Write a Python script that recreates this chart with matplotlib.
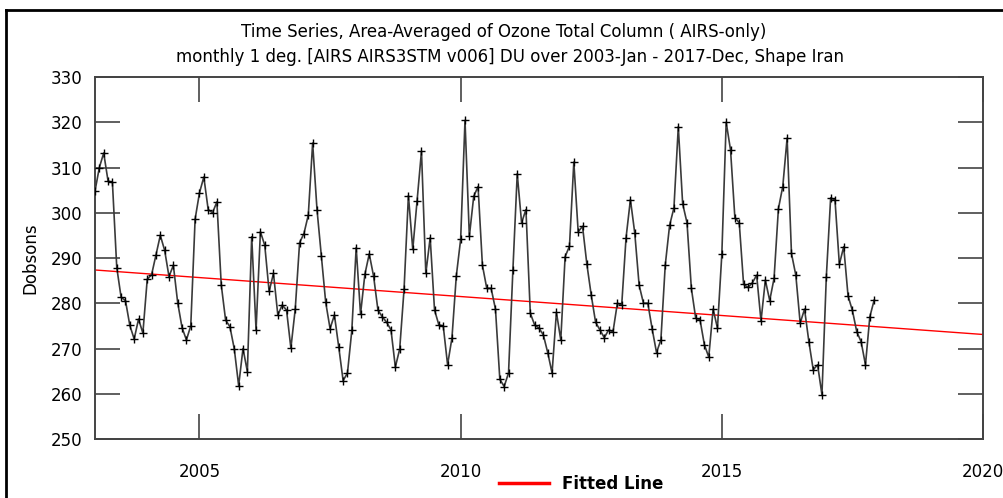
import numpy as np
import matplotlib
matplotlib.use("Agg")
import matplotlib.pyplot as plt
from matplotlib.lines import Line2D

plt.rcParams['font.family'] = ['DejaVu Sans']

# monthly ozone, 2003-Jan .. 2017-Dec (DU)
ozone_2003 = [304.8, 310.0, 313.2, 307.0, 306.7, 287.9, 281.3, 280.6, 275.1, 272.1, 276.5, 273.4]
ozone_2004 = [285.3, 286.3, 290.6, 295.0, 291.7, 285.9, 288.4, 280.1, 274.6, 271.9, 275.0, 298.6]
ozone_2005 = [304.4, 307.9, 300.7, 300.0, 302.4, 284.1, 276.3, 274.8, 269.9, 261.8, 270.0, 264.9]
ozone_2006 = [294.7, 274.1, 295.8, 292.8, 282.6, 286.6, 277.4, 279.6, 278.5, 270.1, 278.7, 293.4]
ozone_2007 = [295.4, 299.5, 315.4, 300.7, 290.5, 280.2, 274.4, 277.4, 270.3, 262.9, 264.6, 274.0]
ozone_2008 = [292.3, 277.6, 286.4, 290.9, 286.0, 278.5, 277.0, 275.8, 274.1, 265.9, 269.9, 283.1]
ozone_2009 = [303.8, 291.9, 302.7, 313.6, 286.6, 294.5, 278.5, 275.2, 275.0, 266.4, 272.3, 286.0]
ozone_2010 = [294.1, 320.4, 294.8, 303.6, 305.8, 288.4, 283.3, 283.3, 278.7, 263.2, 261.6, 264.6]
ozone_2011 = [287.3, 308.6, 297.8, 300.7, 277.8, 275.2, 274.5, 273.0, 269.1, 264.6, 278.0, 271.9]
ozone_2012 = [290.3, 292.6, 311.2, 295.8, 297.0, 288.6, 281.8, 275.8, 274.1, 272.4, 274.1, 273.7]
ozone_2013 = [280.0, 279.6, 294.5, 302.9, 295.5, 284.0, 280.0, 280.0, 274.3, 269.1, 271.9, 288.4]
ozone_2014 = [297.2, 301.1, 319.0, 302.0, 297.8, 283.3, 276.7, 276.3, 270.8, 268.1, 278.7, 274.5]
ozone_2015 = [290.8, 320.0, 313.9, 298.9, 297.8, 284.2, 283.5, 284.5, 286.2, 276.1, 285.1, 280.6]
ozone_2016 = [285.5, 300.9, 305.8, 316.5, 291.0, 286.2, 275.6, 278.7, 271.5, 265.3, 266.4, 259.8]
ozone_2017 = [285.7, 303.3, 302.8, 288.6, 292.5, 281.6, 278.4, 273.7, 271.5, 266.4, 277.0, 280.7]

# fitted trend line, value at 2003.0 and at 2020.0
fit_years = [2003, 2020]
fit_values = [287.35, 273.1]

ozone = np.array(ozone_2003 + ozone_2004 + ozone_2005 + ozone_2006 + ozone_2007 +
                 ozone_2008 + ozone_2009 + ozone_2010 + ozone_2011 + ozone_2012 +
                 ozone_2013 + ozone_2014 + ozone_2015 + ozone_2016 + ozone_2017)
years = 2003 + np.arange(len(ozone)) / 12.0

fig = plt.figure(figsize=(10.04, 4.98), dpi=100)
ax = fig.add_axes([95 / 1004, 1 - 439 / 498, 888 / 1004, 362 / 498])

ax.plot(fit_years, fit_values, color='red', lw=1.0, zorder=2)
ax.plot(years, ozone, color='#3a3a3a', lw=1.2, marker='+', ms=6, mew=1.0,
        mec='black', zorder=3)

ax.set_xlim(2003, 2020)
ax.set_ylim(250, 330)
ax.set_xticks([2005, 2010, 2015, 2020])
ax.set_yticks(range(250, 331, 10))
ax.tick_params(direction='in', length=18, width=1.2, color='#444444',
               top=True, right=True, labelsize=12)
ax.tick_params(axis='x', pad=17)
ax.tick_params(axis='y', pad=9)
for s in ax.spines.values():
    s.set_color('#444444')
    s.set_linewidth(1.4)

ax.set_ylabel('Dobsons', fontsize=12, labelpad=8)

fig.text(0.502, 1 - 32 / 498, 'Time Series, Area-Averaged of Ozone Total Column ( AIRS-only)',
         ha='center', va='center', fontsize=12)
fig.text(0.508, 1 - 57 / 498,
         'monthly 1 deg. [AIRS AIRS3STM v006] DU over 2003-Jan - 2017-Dec, Shape Iran',
         ha='center', va='center', fontsize=12)

handle = Line2D([], [], color='red', lw=2.5)
leg = fig.legend([handle], ['Fitted Line'], loc='center', bbox_to_anchor=(0.579, 1 - 484 / 498),
                 frameon=False, handlelength=3.0, handletextpad=0.8,
                 prop={'size': 12, 'weight': 'bold'})

# screenshot border (top and left)
fig.add_artist(Line2D([6 / 1004, 1], [1 - 10 / 498, 1 - 10 / 498], color='black', lw=2))
fig.add_artist(Line2D([6 / 1004, 6 / 1004], [0, 1 - 10 / 498], color='black', lw=2))

fig.savefig('out.png', dpi=100)
